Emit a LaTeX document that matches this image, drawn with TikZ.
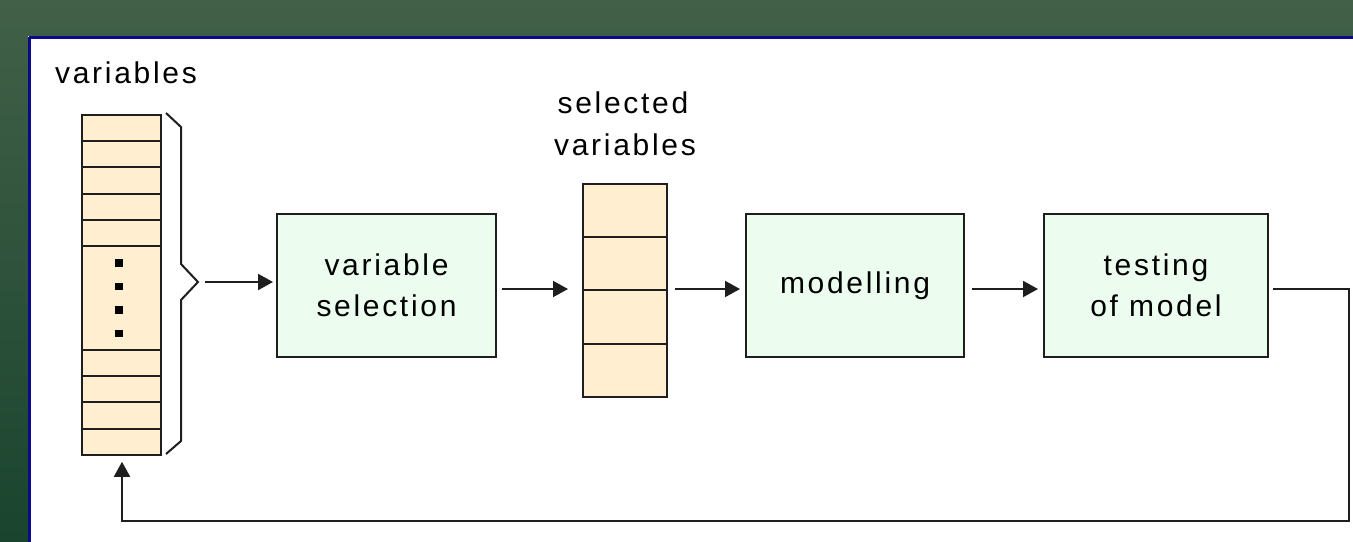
\documentclass[tikz,border=0pt]{standalone}
\usepackage{fontspec}
\setmainfont{Liberation Sans}[LetterSpace=9]
\usetikzlibrary{arrows.meta,calc}
\definecolor{bgtop}{RGB}{66,96,72}
\definecolor{bgbot}{RGB}{26,68,46}
\definecolor{panelblue}{RGB}{10,10,140}
\definecolor{linec}{RGB}{30,30,30}
\definecolor{stackfill}{RGB}{255,238,207}
\definecolor{boxfill}{RGB}{236,253,240}
\tikzset{
  cell/.style={draw=linec, fill=stackfill, line width=1pt, inner sep=0pt, anchor=north west},
  vcell/.style={cell, minimum width=39.5pt, minimum height=13.1pt},
  scell/.style={cell, minimum width=42pt, minimum height=26.7pt},
  procbox/.style={draw=linec, fill=boxfill, line width=1pt, inner sep=0pt, anchor=north west,
    minimum height=71.5pt, align=center, font=\fontsize{15pt}{20.5pt}\selectfont},
  lbl/.style={inner sep=0pt, font=\fontsize{15pt}{21pt}\selectfont},
  dot/.style={fill=black, inner sep=0pt, minimum size=3.6pt},
  conn/.style={draw=linec, line width=1pt},
  arr/.style={conn, -{Triangle[length=7.5pt,width=8pt]}},
}
\begin{document}
\begin{tikzpicture}[x=0.5pt,y=-0.5pt]
\useasboundingbox (0,0) rectangle (1353,541);
\shade[top color=bgtop, bottom color=bgbot] (0,0) rectangle (1353,541);
\fill[white] (28,36) rectangle (1380,570);
\draw[panelblue, line width=1.3pt] (29.3,37.3) -- (1380,37.3);
\draw[panelblue, line width=1.3pt] (29.3,37.3) -- (29.3,570);

% variables stack
\node[lbl, anchor=base] (vlabel) at (126,83) {variables};
\node[vcell] (v1) at (80.5,114) {};
\node[vcell] (v2) at (80.5,140.2) {};
\node[vcell] (v3) at (80.5,166.4) {};
\node[vcell] (v4) at (80.5,192.6) {};
\node[vcell] (v5) at (80.5,218.8) {};
\node[cell, minimum width=39.5pt, minimum height=52pt] (vmid) at (80.5,245) {};
\node[vcell] (v6) at (80.5,349) {};
\node[vcell] (v7) at (80.5,375.2) {};
\node[vcell] (v8) at (80.5,401.4) {};
\node[vcell] (v9) at (80.5,427.6) {};
\node[dot] (d1) at (119,263) {};
\node[dot] (d2) at (119,286.5) {};
\node[dot] (d3) at (119,310) {};
\node[dot] (d4) at (119,333.5) {};

% brace
\draw[conn, line join=miter] (166,113) -- (181,127) -- (181,264) -- (198,282) -- (181,300) -- (181,441) -- (166,454);
\coordinate (btip) at (205,282);

% process boxes
\node[procbox, minimum width=109.5pt] (vsel) at (276,213) {variable\\selection};
\node[lbl, anchor=base] (slabel1) at (623,113) {selected};
\node[lbl, anchor=base] (slabel2) at (625,155) {variables};
\node[scell] (s1) at (582,182.5) {};
\node[scell] (s2) at (582,235.9) {};
\node[scell] (s3) at (582,289.3) {};
\node[scell] (s4) at (582,342.7) {};
\node[procbox, minimum width=109pt] (model) at (745,213) {modelling};
\node[procbox, minimum width=112pt] (test) at (1043,213) {testing\\of model};

% connectors
\coordinate (row) at (0,289);
\draw[arr, shorten >=1.5pt] (btip) -- (btip -| vsel.west);
\draw[arr, shorten <=2.5pt, shorten >=7pt] (vsel.east |- row) -- (s1.west |- row);
\draw[arr, shorten <=3.5pt, shorten >=2.5pt] (s1.east |- row) -- (model.west |- row);
\draw[arr, shorten <=3.5pt, shorten >=2.5pt] (model.east |- row) -- (test.west |- row);
\coordinate (fbr) at (1349,521);
\coordinate (fbl) at (122,521);
\draw[arr, shorten >=3pt] ($(test.east |- row)+(3.5,0)$) -| (fbr) -- (fbl) -- (fbl |- v9.south);
\end{tikzpicture}
\end{document}
